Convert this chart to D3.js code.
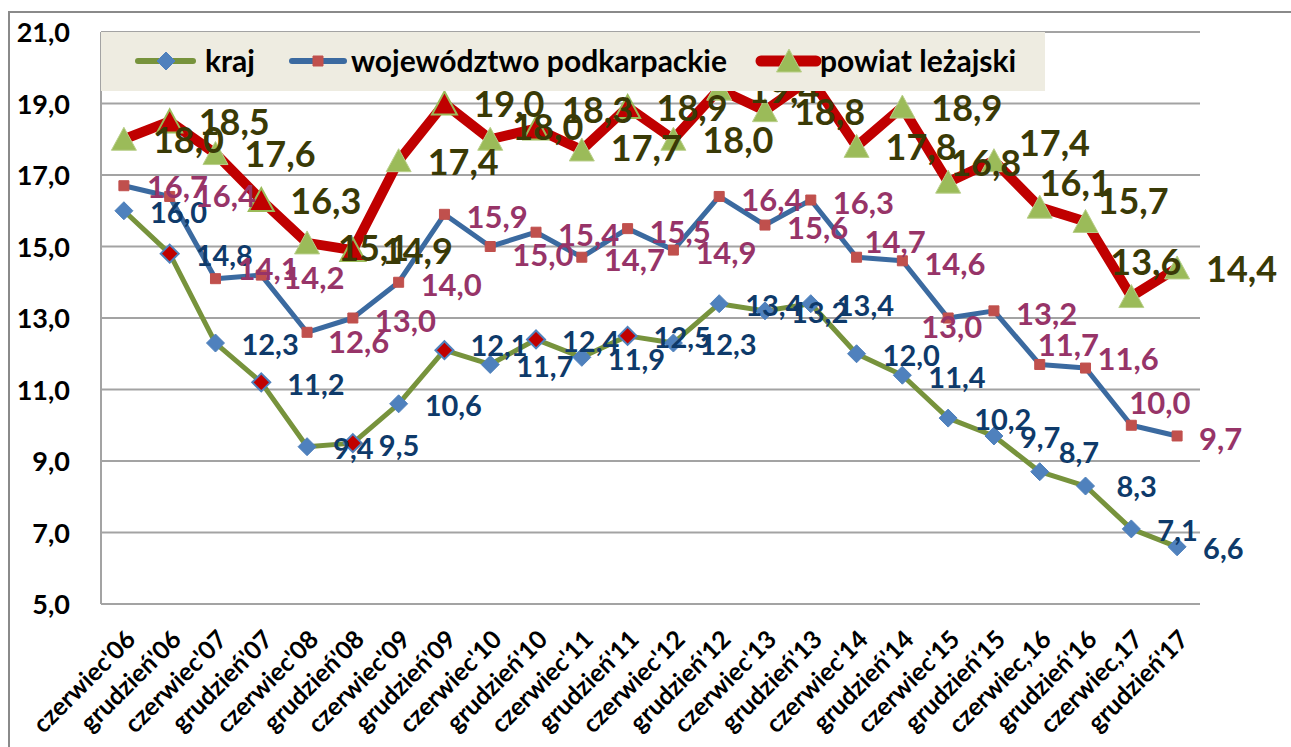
<!DOCTYPE html>
<html>
<head>
<meta charset="utf-8">
<script src="https://cdn.jsdelivr.net/npm/d3@7"></script>
<style>
  html, body { margin: 0; padding: 0; background: #fff; }
  svg { display: block; }
  text { font-family: Lato, "Open Sans", sans-serif; font-weight: 700; }
</style>
</head>
<body>
<svg id="chart" width="1291" height="747"></svg>
<script>
// dane
const categories = [
  "czerwiec'06", "grudzień'06", "czerwiec'07", "grudzień'07", "czerwiec'08", "grudzień'08",
  "czerwiec'09", "grudzień'09", "czerwiec'10", "grudzień'10", "czerwiec'11", "grudzień'11",
  "czerwiec'12", "grudzień'12", "czerwiec'13", "grudzień'13", "czerwiec'14", "grudzień'14",
  "czerwiec'15", "grudzień'15", "czerwiec,16", "grudzień'16", "czerwiec,17", "grudzień'17"
];
const kraj = [16.0, 14.8, 12.3, 11.2, 9.4, 9.5, 10.6, 12.1, 11.7, 12.4, 11.9, 12.5,
  12.3, 13.4, 13.2, 13.4, 12.0, 11.4, 10.2, 9.7, 8.7, 8.3, 7.1, 6.6];
const wojewodztwo = [16.7, 16.4, 14.1, 14.2, 12.6, 13.0, 14.0, 15.9, 15.0, 15.4, 14.7, 15.5,
  14.9, 16.4, 15.6, 16.3, 14.7, 14.6, 13.0, 13.2, 11.7, 11.6, 10.0, 9.7];
const powiat = [18.0, 18.5, 17.6, 16.3, 15.1, 14.9, 17.4, 19.0, 18.0, 18.3, 17.7, 18.9,
  18.0, 19.4, 18.8, 19.7, 17.8, 18.9, 16.8, 17.4, 16.1, 15.7, 13.6, 14.4];
const yTicks = [5, 7, 9, 11, 13, 15, 17, 19, 21];
const seriesNames = ["kraj", "województwo podkarpackie", "powiat leżajski"];

// punkty wyróżnione (grudzień '06 - '11)
const highlighted = [1, 3, 5, 7, 9, 11];

const plot = { left: 101, right: 1200, top: 32, bottom: 604 };
const svg = d3.select("#chart");
const fmt = v => d3.format(".1f")(v).replace(".", ",");

const x = d3.scalePoint().domain(categories).range([plot.left, plot.right]).padding(0.5);
const y = d3.scaleLinear().domain([5, 21]).range([plot.bottom, plot.top]);

// ramka wykresu
svg.append("path")
  .attr("d", "M9,747V12H1291")
  .attr("fill", "none")
  .attr("stroke", "#8a8a8a")
  .attr("stroke-width", 2);

// siatka
svg.append("g")
  .selectAll("line")
  .data(yTicks)
  .join("line")
  .attr("x1", plot.left).attr("x2", plot.right)
  .attr("y1", d => y(d)).attr("y2", d => y(d))
  .attr("stroke", "#a3a3a3")
  .attr("stroke-width", 2);

svg.append("line")
  .attr("x1", plot.left).attr("x2", plot.left)
  .attr("y1", plot.top).attr("y2", plot.bottom)
  .attr("stroke", "#a3a3a3")
  .attr("stroke-width", 2);

// oś Y
svg.append("g")
  .selectAll("text")
  .data(yTicks)
  .join("text")
  .attr("x", 70)
  .attr("y", d => y(d) + 10)
  .attr("text-anchor", "end")
  .style("font-size", "27px")
  .attr("fill", "#000")
  .text(d => fmt(d));

// oś X
svg.append("g")
  .selectAll("text")
  .data(categories)
  .join("text")
  .attr("transform", d => `translate(${x(d) + 13},641) rotate(-45)`)
  .attr("text-anchor", "end")
  .style("font-size", "25px")
  .attr("fill", "#000")
  .text(d => d);

const markers = {
  diamond: "M0,-9L9,0L0,9L-9,0Z",
  square: "M-5,-5H5V5H-5Z",
  triangle: "M0,-12L12.5,11H-12.5Z"
};

const series = [
  {
    values: kraj, line: "#77933C", width: 5, marker: "diamond",
    fill: "#4F81BD", stroke: "#4F81BD", hiFill: "#C00000",
    labelColor: "#0E3A6A", fontSize: 29, dx: 26, dy: 2,
    nudge: { 7: [0, -7], 20: [-7, -21], 21: [5, -1] }
  },
  {
    values: wojewodztwo, line: "#3B6AA0", width: 5, marker: "square",
    fill: "#C0504D", stroke: "#C0504D", hiFill: null,
    labelColor: "#973468", fontSize: 31, dx: 22, dy: 3,
    nudge: { 0: [1, -2], 1: [3, -4], 2: [0, -13], 4: [-1, 7], 8: [0, 5], 16: [-14, -18],
      18: [-49, 6], 20: [-24, -23], 21: [-10, -12], 22: [-24, -25] }
  },
  {
    values: powiat, line: "#C00000", width: 10, marker: "triangle",
    fill: "#9BBB59", stroke: "#B9CF8A", hiFill: "#C00000",
    labelColor: "#3A3A06", fontSize: 36, dx: 29, dy: 1,
    nudge: { 4: [2, 4], 8: [-7, -13], 9: [-3, -19], 10: [0, -3], 15: [0, -9], 18: [-27, -20],
      19: [-4, -19], 20: [-29, -25], 21: [-17, -21], 22: [-50, -35] }
  }
];

const line = d3.line()
  .x((d, i) => x(categories[i]))
  .y(d => y(d));

// linie i znaczniki
series.forEach(s => {
  svg.append("path")
    .datum(s.values)
    .attr("d", line)
    .attr("fill", "none")
    .attr("stroke", s.line)
    .attr("stroke-width", s.width)
    .attr("stroke-linejoin", "round");

  svg.append("g")
    .selectAll("path")
    .data(s.values)
    .join("path")
    .attr("transform", (d, i) => `translate(${x(categories[i])},${y(d)})`)
    .attr("d", markers[s.marker])
    .attr("fill", (d, i) => s.hiFill && highlighted.includes(i) ? s.hiFill : s.fill)
    .attr("stroke", (d, i) => s.hiFill && highlighted.includes(i) ? s.fill : s.stroke)
    .attr("stroke-width", (d, i) => s.hiFill && highlighted.includes(i) ? 2 : 1);
});

// etykiety danych
series.forEach(s => {
  svg.append("g")
    .selectAll("text")
    .data(s.values)
    .join("text")
    .attr("x", (d, i) => x(categories[i]) + s.dx + (s.nudge[i] ? s.nudge[i][0] : 0))
    .attr("y", (d, i) => y(d) + s.dy + (s.nudge[i] ? s.nudge[i][1] : 0) + s.fontSize * 0.358)
    .style("font-size", s.fontSize + "px")
    .attr("fill", s.labelColor)
    .text(d => fmt(d));
});

// legenda
const legend = svg.append("g");
legend.append("rect")
  .attr("x", plot.left).attr("y", plot.top)
  .attr("width", 944).attr("height", 59)
  .attr("fill", "#EEECE1");

const legendItems = [
  { x1: 138, x2: 193, mx: 166, tx: 205 },
  { x1: 292, x2: 344, mx: 318, tx: 351 },
  { x1: 761, x2: 816, mx: 789, tx: 820 }
];

legendItems.forEach((it, k) => {
  const s = series[k];
  legend.append("line")
    .attr("x1", it.x1).attr("x2", it.x2)
    .attr("y1", 61).attr("y2", 61)
    .attr("stroke", s.line)
    .attr("stroke-width", s.width + 1)
    .attr("stroke-linecap", "round");
  legend.append("path")
    .attr("transform", `translate(${it.mx},61)`)
    .attr("d", markers[s.marker])
    .attr("fill", s.fill)
    .attr("stroke", s.stroke);
  legend.append("text")
    .attr("x", it.tx)
    .attr("y", 72)
    .style("font-size", "30px")
    .attr("fill", "#000")
    .text(seriesNames[k]);
});
</script>
</body>
</html>
